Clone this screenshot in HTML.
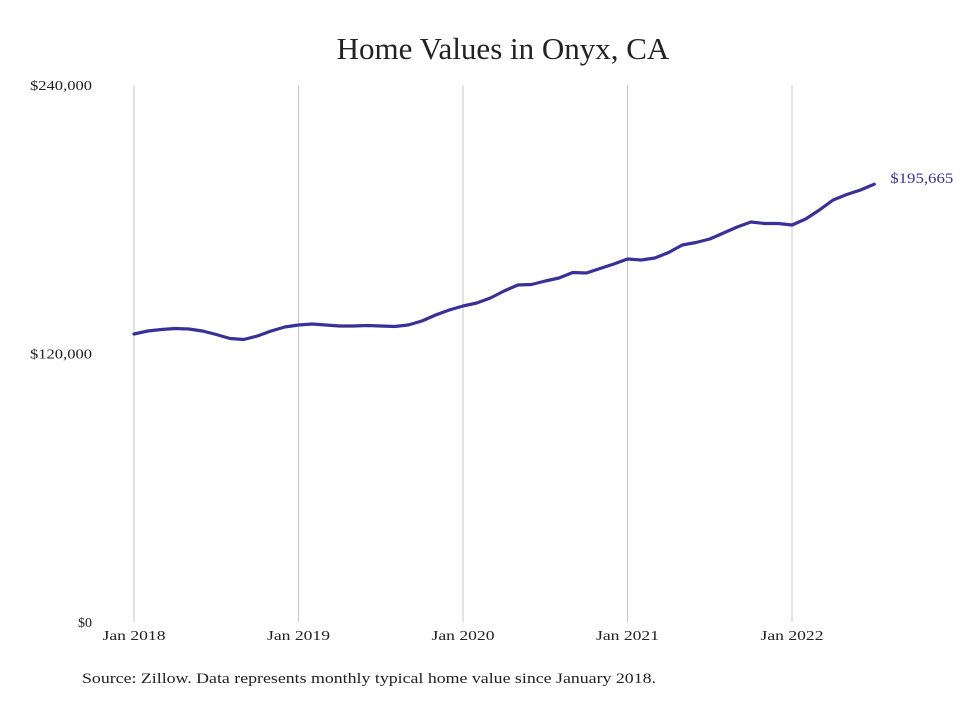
<!DOCTYPE html>
<html><head><meta charset="utf-8"><style>
body{margin:0;background:#fff;width:980px;height:699px;overflow:hidden;font-family:"Liberation Serif",serif}
</style></head><body>
<svg width="980" height="699" xmlns="http://www.w3.org/2000/svg">
<text x="503" y="59" text-anchor="middle" font-size="31" fill="#222">Home Values in Onyx, CA</text>
<g id="grid"></g><g id="yaxis"></g><g id="xaxis"></g>
<path id="line" fill="none" stroke="#3a3198" stroke-width="3.2" stroke-linejoin="round" stroke-linecap="round"/>
<text id="endlabel" font-size="15" fill="#3a3198" textLength="63" lengthAdjust="spacingAndGlyphs"></text>
<text x="82" y="683" font-size="15" fill="#222" textLength="574" lengthAdjust="spacingAndGlyphs">Source: Zillow. Data represents monthly typical home value since January 2018.</text>
</svg>
<script>
const yTicks=[0,120000,240000];
const yTickLabels=["$0","$120,000","$240,000"];
const yTickWidths=[14,62,62];
const xTickMonths=[0,12,24,36,48];
const xTickLabels=["Jan 2018","Jan 2019","Jan 2020","Jan 2021","Jan 2022"];
const values=[128707,130048,130718,131165,130942,130048,128484,126696,126249,127813,130048,131836,
132729,133176,132729,132282,132282,132506,132282,132059,132729,134517,137198,139433,
141220,142561,144796,147924,150605,150829,152393,153734,156192,155968,157979,159990,
162225,161778,162672,165130,168481,169599,171163,173844,176526,178760,178090,178090,
177419,180101,184123,188592,191050,193061,195665];
const endLabel="$195,665";
const ns="http://www.w3.org/2000/svg";
const x=m=>134+m*(792-134)/48;
const y=v=>622-v*(622-85)/240000;
function mk(t,a,p){const e=document.createElementNS(ns,t);for(const k in a)e.setAttribute(k,a[k]);p.appendChild(e);return e;}
const grid=document.getElementById('grid'),ya=document.getElementById('yaxis'),xa=document.getElementById('xaxis');
xTickMonths.forEach((m,i)=>{
 const l=mk('line',{x1:x(m),x2:x(m),y1:85,y2:622,stroke:'#c8c8c8','stroke-width':1},grid);
 
 
 const t=mk('text',{x:x(m),y:640,'text-anchor':'middle','font-size':14,fill:'#222',textLength:63,lengthAdjust:'spacingAndGlyphs'},xa);
 t.textContent=xTickLabels[i];
 
 
});
yTicks.forEach((v,i)=>{
 const t=mk('text',{x:92,y:y(v)+5,'text-anchor':'end','font-size':14,fill:'#222',textLength:yTickWidths[i],lengthAdjust:'spacingAndGlyphs'},ya);
 t.textContent=yTickLabels[i];
 
 
});
document.getElementById('line').setAttribute('d',values.map((v,i)=>(i?'L':'M')+x(i).toFixed(1)+','+y(v).toFixed(1)).join(''));
const el=document.getElementById('endlabel');
const li=values.length-1;
el.setAttribute('x',x(li)+16);el.setAttribute('y',y(values[li])-1);el.textContent=endLabel;
</script>
</body></html>
